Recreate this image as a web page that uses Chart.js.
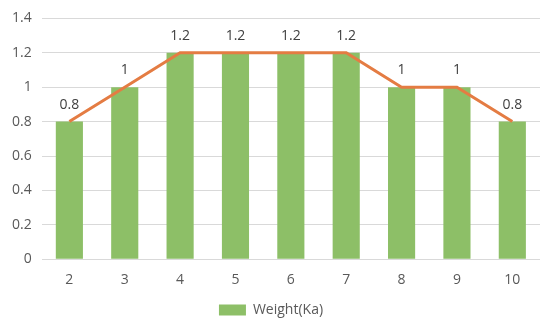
<!DOCTYPE html>
<html>
<head>
<meta charset="utf-8">
<script src="https://cdn.jsdelivr.net/npm/chart.js@4"></script>
<style>
  html, body { margin: 0; padding: 0; background: #fff; }
  #wrap { width: 550px; height: 320px; }
</style>
</head>
<body>
<div id="wrap"><canvas id="chart" width="550" height="320"></canvas></div>
<script>
const categories = ['2', '3', '4', '5', '6', '7', '8', '9', '10'];
const weights = [0.8, 1, 1.2, 1.2, 1.2, 1.2, 1, 1, 0.8];
const yTicks = [0, 0.2, 0.4, 0.6, 0.8, 1, 1.2, 1.4];

const FONT = '"Open Sans", sans-serif';

// value labels above each point of the line
const barLabels = {
    id: 'barLabels',
    afterDatasetsDraw(chart) {
        const ctx = chart.ctx;
        const meta = chart.getDatasetMeta(0);
        ctx.save();
        ctx.fillStyle = '#404040';
        ctx.font = '14px ' + FONT;
        ctx.textAlign = 'center';
        ctx.textBaseline = 'middle';
        meta.data.forEach((pt, i) => {
            ctx.fillText(String(weights[i]), pt.x, pt.y - 17);
        });
        ctx.restore();
    }
};

const chart = new Chart('chart', {
    type: 'bar',
    data: {
        labels: categories,
        datasets: [{
            type: 'line',
            label: 'trend',
            data: weights,
            borderColor: '#E47C43',
            borderWidth: 3,
            pointRadius: 0,
            tension: 0,
            order: 0
        }, {
            label: 'Weight(Ka)',
            data: weights,
            backgroundColor: '#8DBF67',
            categoryPercentage: 1,
            barPercentage: 0.49,
            order: 1
        }]
    },
    options: {
        responsive: false,
        animation: false,
        layout: { padding: { top: 6, right: 10, left: 2, bottom: -7 } },
        plugins: {
            tooltip: { enabled: false },
            legend: {
                position: 'bottom',
                labels: {
                    filter: item => item.datasetIndex === 1,
                    boxWidth: 27,
                    boxHeight: 11,
                    color: '#595959',
                    font: { family: FONT, size: 14 },
                    padding: 3
                }
            }
        },
        scales: {
            x: {
                grid: { display: false, drawTicks: false },
                border: { display: false },
                ticks: {
                    color: '#595959',
                    font: { family: FONT, size: 14 },
                    padding: 12
                }
            },
            y: {
                min: 0,
                max: 1.4,
                afterBuildTicks: axis => { axis.ticks = yTicks.map(v => ({ value: v })); },
                grid: { color: '#D9D9D9', drawTicks: false },
                border: { display: false },
                ticks: {
                    color: '#595959',
                    font: { family: FONT, size: 14 },
                    padding: 10,
                    callback: v => String(Math.round(v * 10) / 10)
                }
            }
        }
    },
    plugins: [barLabels]
});
</script>
</body>
</html>
